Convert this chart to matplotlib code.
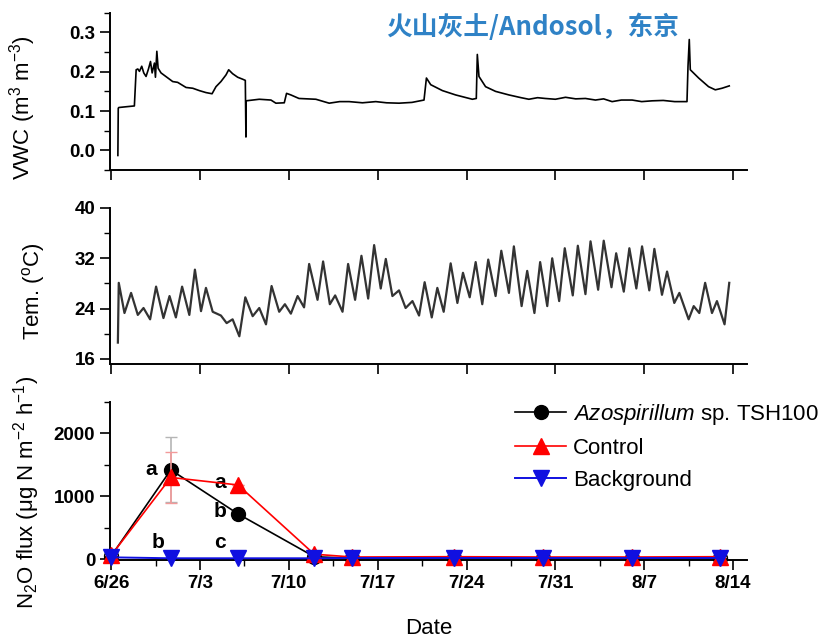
import numpy as np
import matplotlib
matplotlib.use("Agg")
import matplotlib.pyplot as plt
from matplotlib.ticker import MultipleLocator
from matplotlib.lines import Line2D

plt.rcParams['font.family'] = ['Liberation Sans', 'DejaVu Sans']
plt.rcParams['mathtext.fontset'] = 'custom'
plt.rcParams['mathtext.rm'] = 'Liberation Sans'
plt.rcParams['mathtext.it'] = 'Liberation Sans:italic'
plt.rcParams['mathtext.bf'] = 'Liberation Sans:bold'

# days after 6/26
tick_days = [0, 7, 14, 21, 28, 35, 42, 49]
tick_labels = ["6/26", "7/3", "7/10", "7/17", "7/24", "7/31", "8/7", "8/14"]

# soil water content (m3 m-3)
vwc_day = [0.53, 0.56, 0.6, 1.2, 1.83, 1.97, 2.1, 2.23, 2.41, 2.57, 2.75, 2.94, 3.1, 3.23,
           3.41, 3.49, 3.6, 3.7, 3.93, 4.85, 5.24, 5.9, 6.43, 6.95, 7.47, 7.95, 8.26,
           8.65, 9.05, 9.26, 9.57, 9.97, 10.36, 10.57, 10.62, 10.63, 11.67, 12.59,
           12.98, 13.64, 13.82, 14.16, 14.8, 16.13, 17.18, 18.0, 18.75, 19.8, 20.85,
           21.7, 22.68, 23.7, 24.65, 24.84, 25.18, 26.1, 27.14, 28.46, 28.77, 28.85,
           28.98, 29.5, 30.29, 31.34, 32.3, 32.91, 33.6, 34.2, 35.0, 35.8, 36.6, 37.37,
           38.16, 38.8, 39.47, 40.2, 41.05, 41.8, 42.62, 43.5, 44.4, 45.37, 45.45,
           45.55, 45.63, 46.29, 47.07, 47.6, 48.13, 48.7]
vwc_val = [-0.013, 0.107, 0.109, 0.111, 0.113, 0.205, 0.207, 0.201, 0.214, 0.197, 0.188,
           0.207, 0.226, 0.197, 0.222, 0.186, 0.252, 0.209, 0.197, 0.175, 0.173, 0.160,
           0.158, 0.152, 0.147, 0.144, 0.162, 0.175, 0.192, 0.205, 0.195, 0.186, 0.181,
           0.178, 0.034, 0.126, 0.130, 0.128, 0.120, 0.121, 0.145, 0.141, 0.132, 0.130,
           0.120, 0.124, 0.124, 0.121, 0.124, 0.121, 0.120, 0.122, 0.128, 0.184, 0.167,
           0.152, 0.141, 0.130, 0.132, 0.244, 0.188, 0.162, 0.150, 0.141, 0.134, 0.130,
           0.134, 0.132, 0.130, 0.135, 0.131, 0.132, 0.128, 0.131, 0.124, 0.128, 0.128,
           0.124, 0.126, 0.127, 0.124, 0.124, 0.214, 0.282, 0.205, 0.184, 0.162, 0.154,
           0.158, 0.164]

# soil temperature (degC), peaks and troughs
tem_day = [0.53, 0.6, 1.05, 1.57, 2.1, 2.55, 3.07, 3.54, 4.12, 4.6, 5.1, 5.59, 6.16, 6.6,
           7.08, 7.47, 8.0, 8.65, 9.1, 9.57, 10.1, 10.57, 11.15, 11.67, 12.2, 12.64,
           13.24, 13.69, 14.16, 14.69, 15.2, 15.6, 16.26, 16.7, 17.23, 17.65, 18.23,
           18.67, 19.22, 19.72, 20.25, 20.72, 21.24, 21.64, 22.16, 22.68, 23.2, 23.74,
           24.26, 24.7, 25.26, 25.7, 26.2, 26.75, 27.28, 27.72, 28.25, 28.72, 29.24,
           29.71, 30.29, 30.74, 31.34, 31.73, 32.34, 32.78, 33.35, 33.8, 34.36, 34.75,
           35.3, 35.74, 36.37, 36.77, 37.37, 37.77, 38.37, 38.81, 39.42, 39.79, 40.39,
           40.83, 41.38, 41.83, 42.4, 42.8, 43.4, 43.8, 44.37, 44.77, 45.1, 45.5, 45.9,
           46.34, 46.8, 47.34, 47.73, 48.33, 48.7]
tem_val = [18.6, 28.1, 23.3, 26.5, 23.0, 24.1, 22.3, 27.5, 22.5, 26.0, 22.6, 27.5, 23.0,
           30.2, 23.6, 27.3, 23.5, 22.9, 21.7, 22.3, 19.6, 25.8, 22.8, 24.1, 21.5, 27.6,
           23.5, 24.7, 23.2, 26.0, 24.2, 31.1, 25.4, 31.5, 24.7, 26.1, 23.5, 31.1, 25.4,
           32.4, 25.6, 34.1, 27.2, 31.9, 26.0, 26.9, 24.1, 25.2, 22.9, 28.2, 22.6, 27.3,
           23.5, 31.2, 24.9, 29.7, 25.8, 31.4, 24.7, 31.8, 26.0, 33.2, 26.5, 33.9, 24.4,
           30.0, 23.3, 31.4, 24.4, 32.0, 25.2, 33.6, 26.1, 34.0, 26.3, 34.7, 27.0, 34.8,
           27.4, 32.8, 26.7, 33.6, 27.2, 33.9, 26.9, 33.5, 26.2, 29.9, 24.9, 26.5, 24.6,
           22.3, 24.4, 23.3, 28.1, 23.3, 25.2, 21.5, 28.1]

# N2O flux (ug N m-2 h-1)
flux_day = [0, 4.7, 10, 16, 19, 27, 34, 41, 48]
azo_flux = [50, 1420, 720, 40, 15, 15, 15, 15, 15]
azo_err = [0, 515, 0, 0, 0, 0, 0, 0, 0]
ctrl_flux = [60, 1300, 1180, 80, 35, 40, 35, 35, 40]
ctrl_err = [0, 400, 0, 0, 0, 0, 0, 0, 0]
bg_flux = [30, 15, 15, 15, 20, 20, 20, 20, 20]

fig = plt.figure(figsize=(8.2, 6.38), dpi=100)
ax1 = fig.add_axes([0.134, 0.7335, 0.777, 0.2465])
ax2 = fig.add_axes([0.134, 0.4295, 0.777, 0.2445])
ax3 = fig.add_axes([0.134, 0.122, 0.777, 0.248])

for ax in (ax1, ax2, ax3):
    ax.set_xlim(-0.1, 50.1)
    ax.spines['top'].set_visible(False)
    ax.spines['right'].set_visible(False)
    ax.spines['left'].set_linewidth(1.4)
    ax.spines['bottom'].set_linewidth(1.4)
    ax.set_xticks(tick_days)
    ax.tick_params(which='major', direction='out', length=7, width=1.2, labelsize=13.5)
    ax.tick_params(which='minor', direction='out', length=4, width=1.0)

ax1.plot(vwc_day, vwc_val, color='black', lw=1.2)
ax1.set_ylim(-0.05, 0.35)
ax1.set_yticks([0.0, 0.1, 0.2, 0.3])
ax1.yaxis.set_minor_locator(MultipleLocator(0.05))
ax1.set_xticklabels([])
ax1.set_ylabel("VWC (m$^3$ m$^{-3}$)", fontsize=16)
ax1.yaxis.set_label_coords(-0.113, 0.40)
ax1.text(0.664, 0.905, "火山灰土/Andosol，东京", transform=ax1.transAxes, ha='center',
         va='center', fontsize=18.5, fontweight='bold', color='#2f82c6',
         family=['Noto Sans CJK SC', 'DejaVu Sans'])

ax2.plot(tem_day, tem_val, color='#333333', lw=1.6)
ax2.set_ylim(15.2, 40)
ax2.set_yticks([16, 24, 32, 40])
ax2.yaxis.set_minor_locator(MultipleLocator(4))
ax2.set_xticklabels([])
ax2.set_ylabel("Tem. ($^{\\rm o}$C)", fontsize=16)
ax2.yaxis.set_label_coords(-0.098, 0.47)

ax3.errorbar(flux_day, azo_flux, yerr=azo_err, color='black', ecolor='#b5b5b5',
             elinewidth=1.2, capsize=4, marker='o', ms=10, lw=1.2, clip_on=False, zorder=3)
ax3.errorbar(flux_day, ctrl_flux, yerr=ctrl_err, color='red', ecolor='#f29a9a',
             elinewidth=1.2, capsize=4, marker='^', ms=11, lw=1.2, clip_on=False, zorder=4)
ax3.plot(flux_day, bg_flux, color='#1010e0', marker='v', ms=11, lw=1.4, clip_on=False,
         zorder=5)
ax3.set_ylim(-15, 2500)
ax3.set_yticks([0, 1000, 2000])
ax3.yaxis.set_minor_locator(MultipleLocator(500))
ax3.xaxis.set_minor_locator(MultipleLocator(3.5))
ax3.set_xticklabels(tick_labels)
ax3.set_xlabel("Date", fontsize=16, labelpad=19)
ax3.set_ylabel("N$_2$O flux (μg N m$^{-2}$ h$^{-1}$)", fontsize=16)
ax3.yaxis.set_label_coords(-0.106, 0.43)

for ax in (ax1, ax2, ax3):
    for lab in ax.get_yticklabels() + ax.get_xticklabels():
        lab.set_fontweight('bold')

# significance letters
letters = [("a", 4.7, 1420, -20, 0), ("a", 10, 1180, -18, 2), ("b", 10, 720, -18, 2),
           ("b", 4.7, 15, -13, 16), ("c", 10, 15, -18, 16)]
for s, x, y, dx, dy in letters:
    ax3.annotate(s, (x, y), xytext=(dx, dy), textcoords='offset pixels', ha='center',
                 va='center', fontsize=15, fontweight='bold')

handles = [Line2D([], [], color='black', marker='o', ms=10, lw=1.2),
           Line2D([], [], color='red', marker='^', ms=11, lw=1.2),
           Line2D([], [], color='#1010e0', marker='v', ms=11, lw=1.4)]
names = ["$\\mathit{Azospirillum}$ sp. TSH100", "Control", "Background"]
ax3.legend(handles, names, loc='upper left', bbox_to_anchor=(0.628, 0.37),
           bbox_transform=fig.transFigure, frameon=False, fontsize=16, handlelength=2.3,
           handletextpad=0.3, labelspacing=0.5, borderpad=0, borderaxespad=0)

fig.savefig("out.png", dpi=100)
